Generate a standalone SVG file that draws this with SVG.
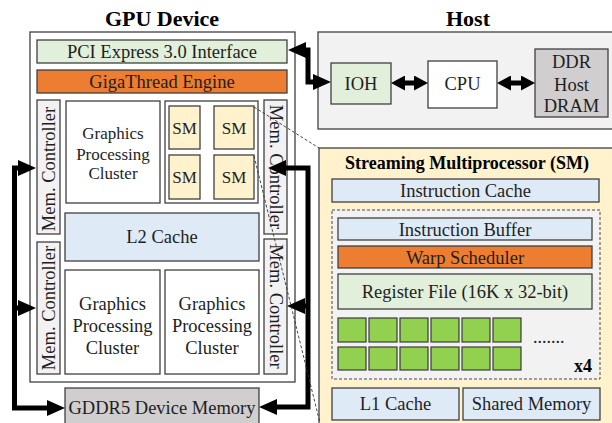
<svg xmlns="http://www.w3.org/2000/svg" width="612" height="423" viewBox="0 0 612 423">
<style>
  text { font-family: "Liberation Serif", "Times New Roman", serif; fill: #1e1e1e; }
  .t { font-size: 18.5px; text-anchor: middle; }
  .s { font-size: 17px; text-anchor: middle; }
  .title { font-size: 22px; font-weight: bold; text-anchor: middle; fill: #000; }
  .b { stroke: #404040; stroke-width: 1.3; }
  .white { fill: #ffffff; }
  .green { fill: #e2efda; }
  .orange { fill: #ed7d31; }
  .blue { fill: #deebf7; }
  .gray { fill: #f2f2f2; }
  .dgray { fill: #d0cece; }
  .yellow { fill: #fff2cc; }
  .cell { fill: #92d050; stroke: #3a3a3a; stroke-width: 1.2; }
  .dash { fill: none; stroke: #333; stroke-width: 0.9; stroke-dasharray: 3 2; }
  .conn { fill: none; stroke: #000; stroke-width: 5; stroke-linejoin: miter; }
</style>
<defs>
  <marker id="ah" markerUnits="userSpaceOnUse" markerWidth="18" markerHeight="16" refX="8" refY="8" orient="auto-start-reverse" viewBox="0 0 18 16">
    <path d="M0,0 L18,8 L0,16 z" fill="#000"/>
  </marker>
  <marker id="ahs" markerUnits="userSpaceOnUse" markerWidth="14" markerHeight="15" refX="5" refY="7.5" orient="auto-start-reverse" viewBox="0 0 14 15">
    <path d="M0,0 L14,7.5 L0,15 z" fill="#000"/>
  </marker>
</defs>

<!-- Titles -->
<text class="title" x="162" y="26">GPU Device</text>
<text class="title" x="468" y="26">Host</text>

<!-- GPU outer -->
<g id="gpu-device">
  <rect class="b white" x="30" y="32" width="265" height="350"/>
</g>
<g id="pcie">
  <rect class="b green" x="37" y="40" width="250" height="23"/>
  <text class="t" x="162" y="58">PCI Express 3.0 Interface</text>
</g>
<g id="gigathread">
  <rect class="b orange" x="37" y="70" width="250" height="23"/>
  <text class="t" x="162" y="88">GigaThread Engine</text>
</g>
<g id="memctrl-lt">
  <rect class="b gray" x="37" y="100" width="23" height="134"/>
  <text class="t" transform="translate(54.5,169) rotate(-90)">Mem. Controller</text>
</g>
<g id="memctrl-lb">
  <rect class="b gray" x="37" y="242" width="23" height="132"/>
  <text class="t" transform="translate(54.5,308) rotate(-90)">Mem. Controller</text>
</g>
<g id="memctrl-rt">
  <rect class="b gray" x="264" y="100" width="23" height="134"/>
  <text class="t" transform="translate(269.5,167) rotate(90)">Mem. Controller</text>
</g>
<g id="memctrl-rb">
  <rect class="b gray" x="264" y="239" width="23" height="135"/>
  <text class="t" transform="translate(269.5,306.5) rotate(90)">Mem. Controller</text>
</g>
<g id="gpc-top">
  <rect class="b white" x="66" y="101" width="94" height="102"/>
  <text class="s" x="113" y="139">Graphics</text>
  <text class="s" x="113" y="159.5">Processing</text>
  <text class="s" x="113" y="179">Cluster</text>
</g>
<g id="sm-group">
  <rect class="b white" x="165" y="101" width="93" height="102"/>
  <rect class="b yellow" x="169" y="106" width="31" height="43"/>
  <rect class="b yellow" x="214" y="106" width="40" height="43"/>
  <rect class="b yellow" x="169" y="155" width="31" height="44"/>
  <rect class="b yellow" x="214" y="155" width="40" height="44"/>
  <text class="s" x="184.5" y="133.5">SM</text>
  <text class="s" x="234" y="133.5">SM</text>
  <text class="s" x="184.5" y="183">SM</text>
  <text class="s" x="234" y="183">SM</text>
</g>
<g id="l2">
  <rect class="b blue" x="65" y="213" width="194" height="48"/>
  <text class="t" x="162" y="243">L2 Cache</text>
</g>
<g id="gpc-bl">
  <rect class="b white" x="65" y="270" width="95" height="104"/>
  <text class="t" x="112.5" y="310">Graphics</text>
  <text class="t" x="112.5" y="332">Processing</text>
  <text class="t" x="112.5" y="354">Cluster</text>
</g>
<g id="gpc-br">
  <rect class="b white" x="165" y="270" width="94" height="104"/>
  <text class="t" x="212" y="310">Graphics</text>
  <text class="t" x="212" y="332">Processing</text>
  <text class="t" x="212" y="354">Cluster</text>
</g>
<g id="gddr5">
  <rect class="b dgray" x="65" y="388" width="194" height="45"/>
  <text class="t" x="162" y="414">GDDR5 Device Memory</text>
</g>

<!-- Host -->
<g id="host">
  <rect class="b gray" x="318" y="32" width="304" height="97"/>
</g>
<g id="ioh">
  <rect class="b green" x="331" y="63" width="60" height="41"/>
  <text class="t" x="361" y="90">IOH</text>
</g>
<g id="cpu">
  <rect class="b white" x="428" y="61" width="69" height="47"/>
  <text class="t" x="462.5" y="90">CPU</text>
</g>
<g id="dram">
  <rect class="b dgray" x="535" y="49" width="73" height="68"/>
  <text class="t" x="571.5" y="68">DDR</text>
  <text class="t" x="571.5" y="90.5">Host</text>
  <text class="t" x="571.5" y="112">DRAM</text>
</g>

<!-- SM detail -->
<g id="sm-detail">
  <rect class="b yellow" x="319" y="148" width="303" height="285"/>
  <text x="467" y="169" style="font-size:18px;font-weight:bold;text-anchor:middle;fill:#000">Streaming Multiprocessor (SM)</text>
</g>
<g id="icache">
  <rect class="b blue" x="332" y="179" width="267" height="23"/>
  <text class="t" x="465.5" y="197">Instruction Cache</text>
</g>
<g id="sub-core">
  <rect x="332" y="210" width="268" height="169" fill="#f2f2f2" stroke="#333" stroke-width="0.9" stroke-dasharray="3 2"/>
  <text x="592" y="372" style="font-size:18px;font-weight:bold;text-anchor:end;fill:#000">x4</text>
</g>
<g id="ibuffer">
  <rect class="b blue" x="338" y="218" width="254" height="22"/>
  <text class="t" x="465" y="235.5">Instruction Buffer</text>
</g>
<g id="warp">
  <rect class="b orange" x="338" y="246" width="254" height="22"/>
  <text class="t" x="465" y="263.5">Warp Scheduler</text>
</g>
<g id="regfile">
  <rect class="b green" x="338" y="274" width="254" height="35"/>
  <text class="t" x="465" y="298">Register File (16K x 32-bit)</text>
</g>
<g id="cores">
  <rect class="cell" x="338" y="318" width="28" height="24"/>
  <rect class="cell" x="369" y="318" width="28" height="24"/>
  <rect class="cell" x="400" y="318" width="28" height="24"/>
  <rect class="cell" x="431" y="318" width="28" height="24"/>
  <rect class="cell" x="462" y="318" width="28" height="24"/>
  <rect class="cell" x="493" y="318" width="28" height="24"/>
  <rect class="cell" x="338" y="347" width="28" height="23"/>
  <rect class="cell" x="369" y="347" width="28" height="23"/>
  <rect class="cell" x="400" y="347" width="28" height="23"/>
  <rect class="cell" x="431" y="347" width="28" height="23"/>
  <rect class="cell" x="462" y="347" width="28" height="23"/>
  <rect class="cell" x="493" y="347" width="28" height="23"/>
  <text x="533" y="343" style="font-size:18px">.......</text>
</g>
<g id="l1">
  <rect class="b blue" x="332" y="388" width="127" height="32"/>
  <text class="t" x="395.5" y="410">L1 Cache</text>
</g>
<g id="smem">
  <rect class="b blue" x="463" y="388" width="137" height="32"/>
  <text class="t" x="531.5" y="410">Shared Memory</text>
</g>

<!-- Connectors -->
<g id="connectors">
  <path class="conn" d="M26,168 H14.5 V408 H55" marker-start="url(#ah)" marker-end="url(#ah)"/>
  <path class="conn" d="M14.5,308 H26" marker-end="url(#ah)"/>
  <path class="conn" d="M278,168 H308 V407 H269" marker-start="url(#ah)" marker-end="url(#ah)"/>
  <path class="conn" d="M308,306 H297" marker-end="url(#ah)"/>
  <path class="conn" d="M298,50 H308 V82 H321" marker-start="url(#ah)" marker-end="url(#ah)"/>
  <path class="conn" d="M400,83 H419" marker-start="url(#ahs)" marker-end="url(#ahs)"/>
  <path class="conn" d="M506,83 H526" marker-start="url(#ahs)" marker-end="url(#ahs)"/>
  <path class="dash" d="M254,107 L319,148"/>
  <path class="dash" d="M254,156 L320,423"/>
</g>
</svg>
